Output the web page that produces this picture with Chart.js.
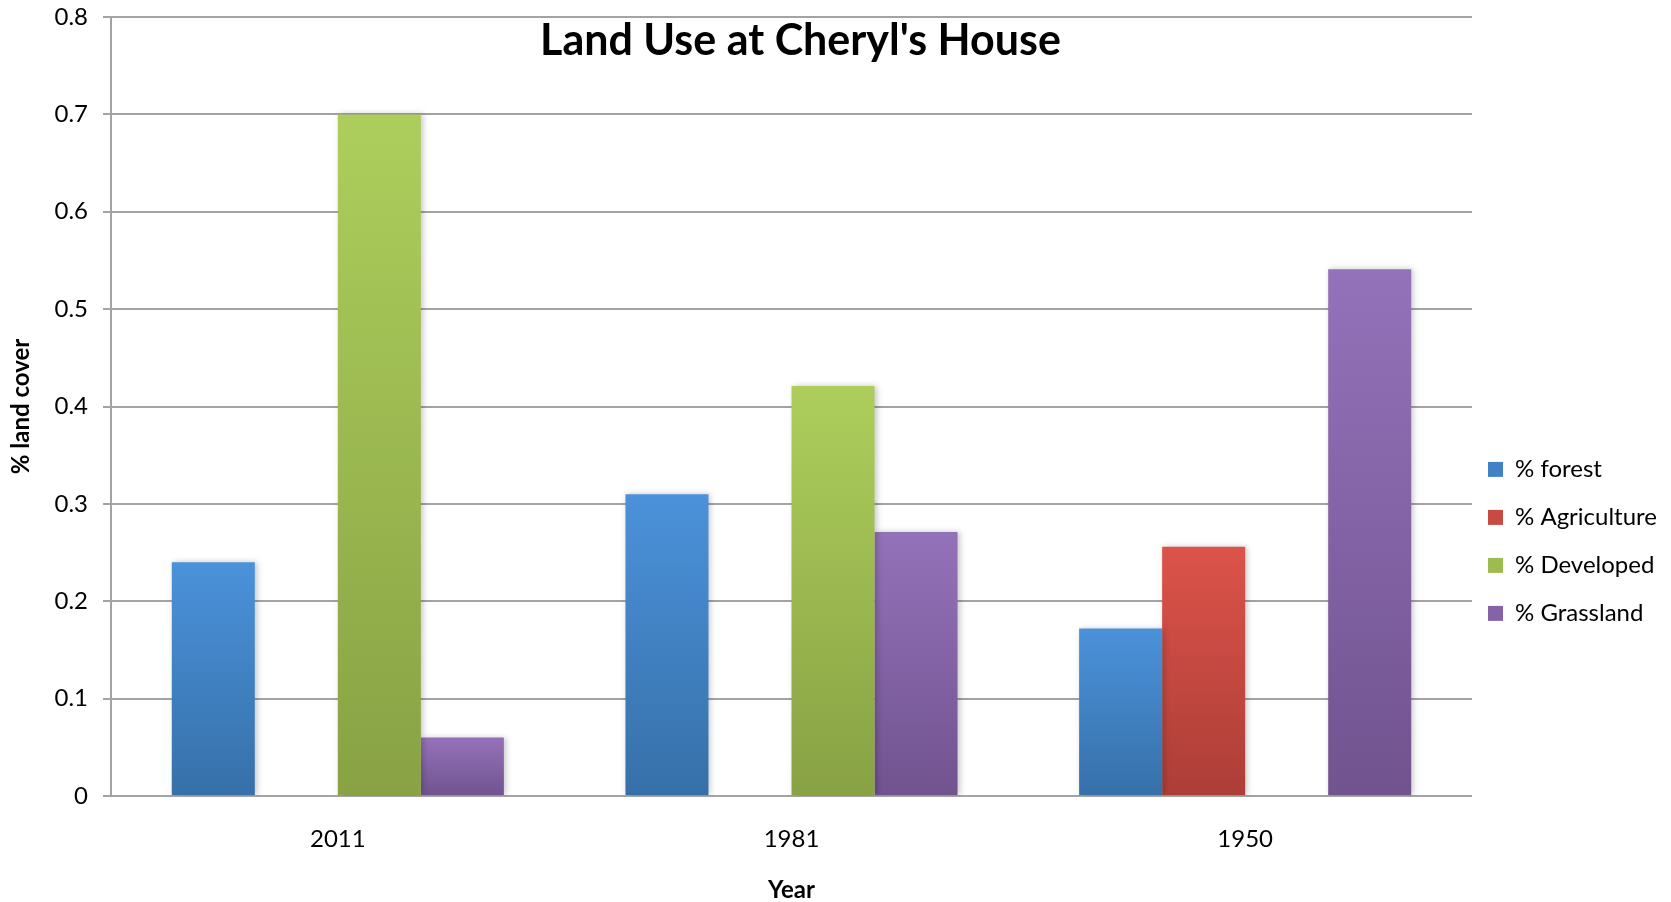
<!DOCTYPE html>
<html>
<head>
<meta charset="utf-8">
<title>Land Use at Cheryl's House</title>
<script src="https://cdn.jsdelivr.net/npm/chart.js@4.4.1/dist/chart.umd.min.js"></script>
<style>
    body { margin: 0; background: #fff; }
    #wrap { width: 1671px; height: 902px; position: relative; }
</style>
</head>
<body>
<div id="wrap"><canvas id="graph"></canvas></div>
<script>
// data
const years = ['2011', '1981', '1950'];
const forest = [0.24, 0.31, 0.172];
const agriculture = [0, 0, 0.256];
const developed = [0.70, 0.421, 0];
const grassland = [0.06, 0.271, 0.541];
const yTickLabels = ['0', '0.1', '0.2', '0.3', '0.4', '0.5', '0.6', '0.7', '0.8'];

const chartTitle = "Land Use at Cheryl's House";
const FONT = 'Lato, "Open Sans", sans-serif';
const gridGrey = '#a3a3a3';

// each bar gets its own light-to-dark gradient, like the excel original
function barFill(top, bottom) {
    return function (ctx) {
        var chart = ctx.chart;
        if (!chart.chartArea || ctx.type !== 'data') return bottom;
        var y = chart.scales.y;
        var y0 = y.getPixelForValue(ctx.raw);
        var y1 = y.getPixelForValue(0);
        if (!(y1 > y0)) return top;
        var g = chart.ctx.createLinearGradient(0, y0, 0, y1);
        g.addColorStop(0, top);
        g.addColorStop(1, bottom);
        return g;
    };
}

const legendColors = ['#4281c4', '#c94a42', '#9cbb50', '#8463a6'];

const titlePlugin = {
    id: 'insideTitle',
    afterDraw(chart) {
        var ctx = chart.ctx;
        var area = chart.chartArea;
        ctx.save();
        ctx.font = 'bold 43px ' + FONT;
        ctx.fillStyle = '#000';
        ctx.textAlign = 'center';
        ctx.textBaseline = 'alphabetic';
        ctx.fillText(chartTitle, (area.left + area.right) / 2 + 9, area.top + 38);
        ctx.restore();
    }
};

const shadowPlugin = {
    id: 'barShadow',
    beforeDatasetsDraw(chart) {
        var ctx = chart.ctx;
        ctx.save();
        ctx.shadowColor = 'rgba(0,0,0,0.22)';
        ctx.shadowBlur = 6;
        ctx.shadowOffsetX = 2;
        ctx.shadowOffsetY = 0;
    },
    afterDatasetsDraw(chart) {
        chart.ctx.restore();
    }
};

const legendPlugin = {
    id: 'legendFix',
    beforeInit(chart) {
        var fit = chart.legend.fit;
        chart.legend.fit = function () {
            fit.bind(chart.legend)();
            this.width = 199;
        };
    },
    afterLayout(chart) {
        chart.legend.left -= 8;
        chart.legend.right -= 8;
    }
};

window.addEventListener('load', () => {

    chart = new Chart('graph', {
        type: 'bar',
        data: {
            labels: years,
            datasets: [{
                label: '% forest',
                data: forest,
                backgroundColor: barFill('#4b92da', '#3670a9')
            }, {
                label: '% Agriculture',
                data: agriculture,
                backgroundColor: barFill('#dc534a', '#ac3e37')
            }, {
                label: '% Developed',
                data: developed,
                backgroundColor: barFill('#adce5c', '#88a244')
            }, {
                label: '% Grassland',
                data: grassland,
                backgroundColor: barFill('#9472ba', '#71538f')
            }]
        },
        options: {
            responsive: true,
            maintainAspectRatio: false,
            animation: false,
            categoryPercentage: 0.732,
            barPercentage: 1.0,
            borderWidth: 0,
            layout: { padding: { top: 17, left: 7, right: 0, bottom: 0 } },
            plugins: {
                tooltip: { enabled: false },
                legend: {
                    position: 'right',
                    align: 'start',
                    title: { display: true, text: '', padding: { top: 402, bottom: 0 }, font: { size: 12 } },
                    labels: {
                        boxWidth: 15,
                        boxHeight: 15,
                        padding: 24,
                        color: '#000',
                        font: { family: FONT, size: 24 },
                        generateLabels(chart) {
                            var items = Chart.defaults.plugins.legend.labels.generateLabels(chart);
                            items.forEach((it, i) => { it.fillStyle = legendColors[i]; it.lineWidth = 0; });
                            return items;
                        }
                    }
                }
            },
            scales: {
                x: {
                    afterFit(scale) { scale.height = 106; scale.paddingLeft = 0; scale.paddingRight = 0; },
                    grid: { display: false, drawTicks: false },
                    border: { display: false },
                    ticks: { color: '#000', padding: 29, font: { family: FONT, size: 24 } },
                    title: {
                        display: true,
                        text: 'Year',
                        color: '#000',
                        padding: 0,
                        font: { family: FONT, size: 24, weight: 'bold', lineHeight: 1.0 }
                    }
                },
                y: {
                    min: 0,
                    max: 0.8,
                    afterFit(scale) { scale.width = 104; scale.paddingTop = 0; scale.paddingBottom = 0; },
                    grid: { color: gridGrey, lineWidth: 2, tickLength: 8, drawTicks: true },
                    border: { display: true, color: gridGrey, width: 2 },
                    ticks: {
                        stepSize: 0.1,
                        padding: 15,
                        color: '#000',
                        font: { family: FONT, size: 24 },
                        callback: (v, i) => yTickLabels[i]
                    },
                    title: {
                        display: true,
                        text: '% land cover',
                        color: '#000',
                        padding: 0,
                        font: { family: FONT, size: 24, weight: 'bold' }
                    }
                }
            }
        },
        plugins: [titlePlugin, shadowPlugin, legendPlugin]
    });

})
</script>
</body>
</html>
